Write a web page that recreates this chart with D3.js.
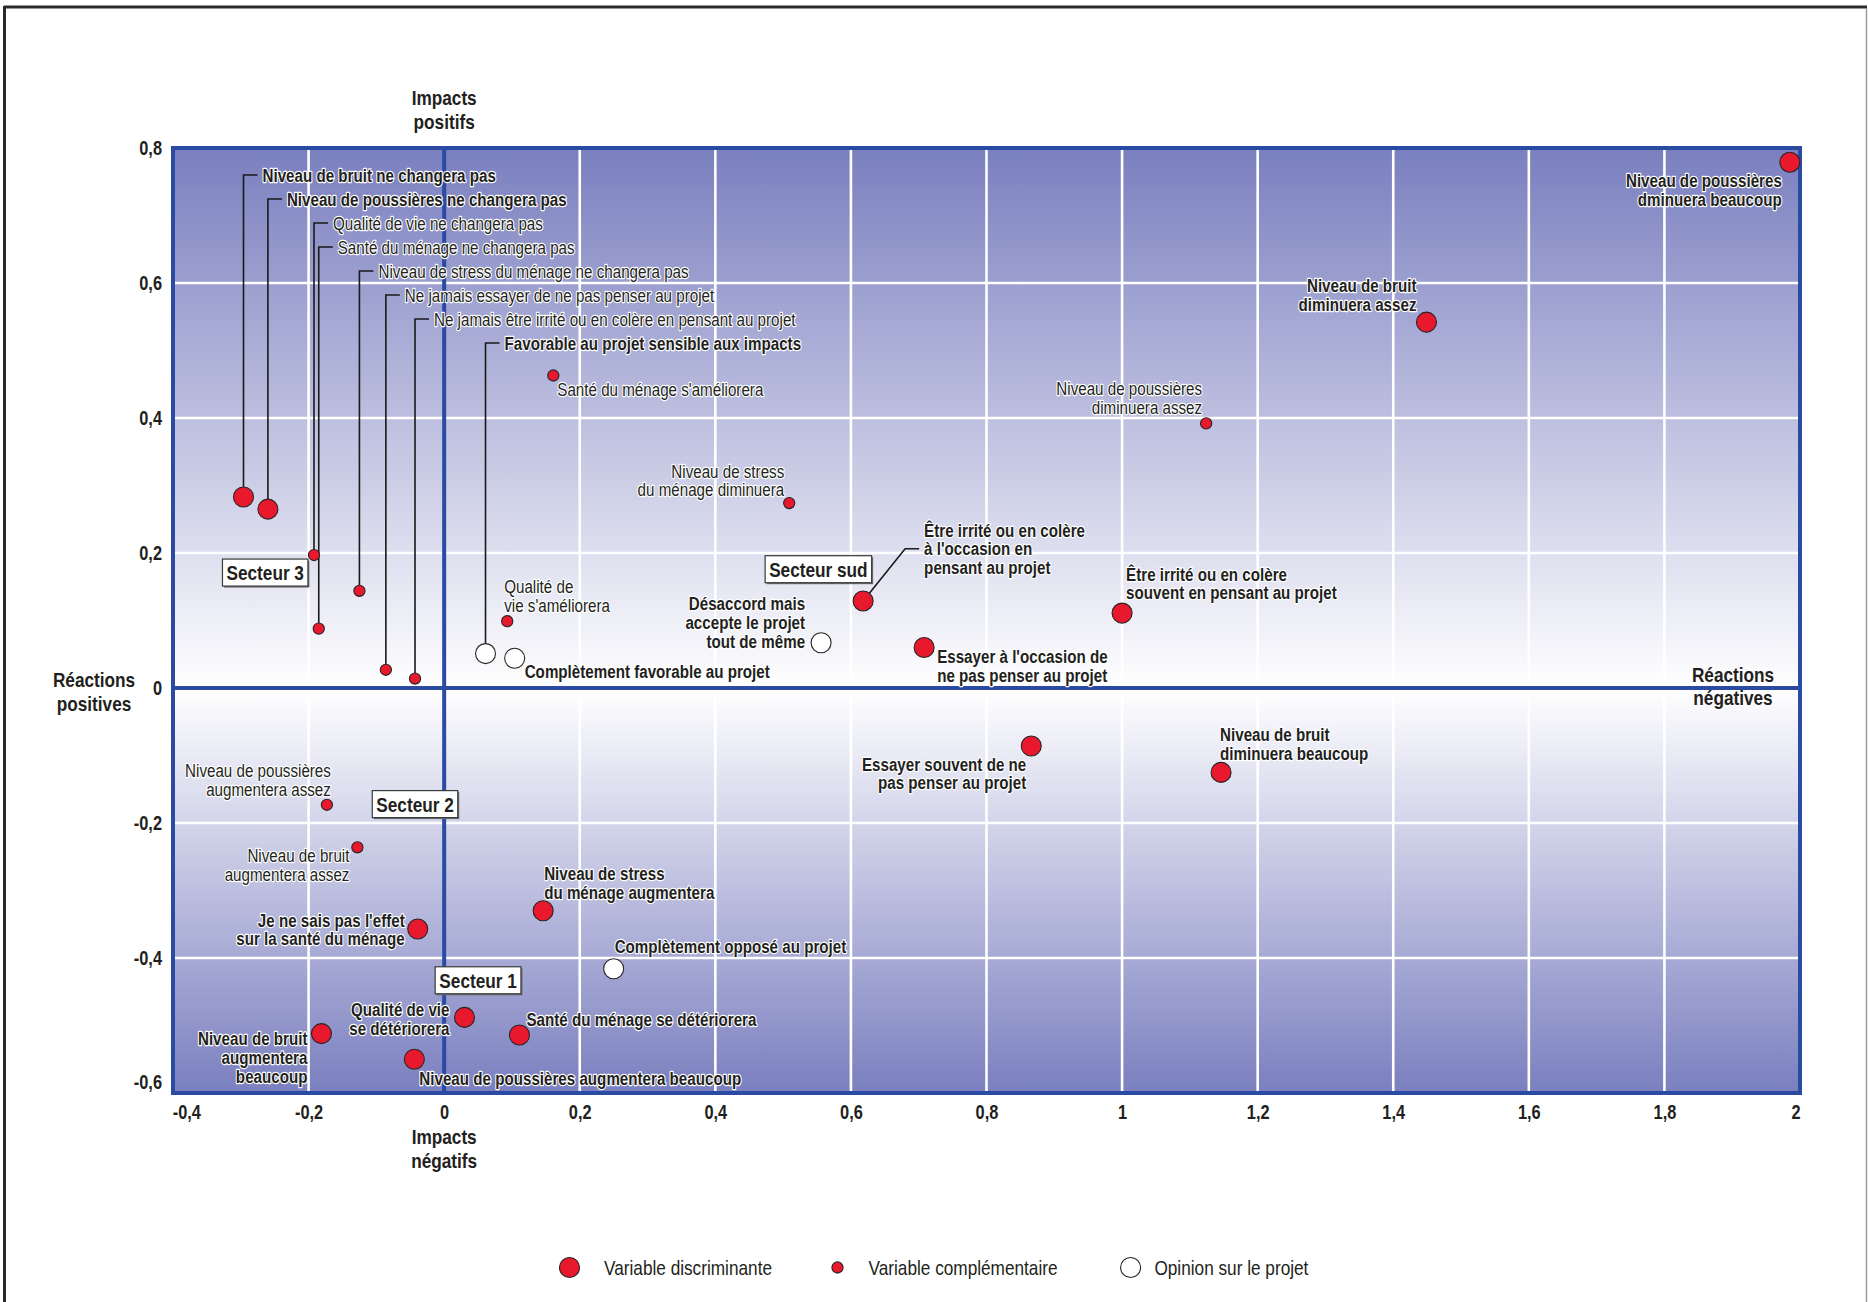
<!DOCTYPE html>
<html><head><meta charset="utf-8">
<script src="https://cdn.jsdelivr.net/npm/d3@7"></script>
<style>
html,body{margin:0;padding:0;background:#fff;}
svg{display:block;}
.lbl{font-size:18.5px;fill:#231f20;paint-order:stroke;stroke:#ffffff;stroke-width:2.4px;stroke-linejoin:round;}
.b{font-weight:bold;}
.tick text{font-size:20px;font-weight:bold;fill:#231f20;}
.ttl{font-size:21px;font-weight:bold;fill:#231f20;}
.leg{font-size:21px;fill:#231f20;}
.sect{font-size:21px;font-weight:bold;fill:#231f20;paint-order:stroke;stroke:#fff;stroke-width:1.5px;}
</style></head><body>
<svg id="chart" width="1868" height="1302"></svg>
<script>
// ---------- DATA ----------
const discriminantNames = [
  "Niveau de bruit ne changera pas",
  "Niveau de poussières ne changera pas",
  "Niveau de poussières\ndminuera beaucoup",
  "Niveau de bruit\ndiminuera assez",
  "Être irrité ou en colère\nà l'occasion en\npensant au projet",
  "Être irrité ou en colère\nsouvent en pensant au projet",
  "Essayer à l'occasion de\nne pas penser au projet",
  "Essayer souvent de ne\npas penser au projet",
  "Niveau de bruit\ndiminuera beaucoup",
  "Je ne sais pas l'effet\nsur la santé du ménage",
  "Niveau de stress\ndu ménage augmentera",
  "Qualité de vie\nse détériorera",
  "Santé du ménage se détériorera",
  "Niveau de bruit\naugmentera\nbeaucoup",
  "Niveau de poussières augmentera beaucoup"
];
const discriminantX = [-0.296,-0.260,1.985,1.449,0.618,1.000,0.708,0.866,1.146,-0.039,0.146,0.030,0.111,-0.181,-0.044];
const discriminantY = [0.283,0.265,0.779,0.542,0.129,0.111,0.060,-0.086,-0.125,-0.357,-0.330,-0.488,-0.514,-0.512,-0.550];

const complementaryNames = [
  "Qualité de vie ne changera pas",
  "Santé du ménage ne changera pas",
  "Niveau de stress du ménage ne changera pas",
  "Ne jamais essayer de ne pas penser au projet",
  "Ne jamais être irrité ou en colère en pensant au projet",
  "Santé du ménage s'améliorera",
  "Niveau de stress\ndu ménage diminuera",
  "Niveau de poussières\ndiminuera assez",
  "Qualité de\nvie s'améliorera",
  "Niveau de poussières\naugmentera assez",
  "Niveau de bruit\naugmentera assez"
];
const complementaryX = [-0.192,-0.185,-0.125,-0.086,-0.043,0.161,0.509,1.124,0.093,-0.173,-0.128];
const complementaryY = [0.197,0.088,0.144,0.027,0.014,0.463,0.274,0.392,0.099,-0.173,-0.236];

const opinionNames = [
  "Favorable au projet sensible aux impacts",
  "Complètement favorable au projet",
  "Désaccord mais\naccepte le projet\ntout de même",
  "Complètement opposé au projet"
];
const opinionX = [0.061,0.104,0.556,0.250];
const opinionY = [0.051,0.044,0.067,-0.416];

const sectorNames = ["Secteur 3","Secteur 2","Secteur 1","Secteur sud"];
const sectorX = [-0.264,-0.043,0.050,0.552];
const sectorY = [0.171,-0.172,-0.433,0.176];

const xTicks = [-0.4,-0.2,0,0.2,0.4,0.6,0.8,1,1.2,1.4,1.6,1.8,2];
const xTickLabels = ["-0,4","-0,2","0","0,2","0,4","0,6","0,8","1","1,2","1,4","1,6","1,8","2"];
const yTicks = [0.8,0.6,0.4,0.2,0,-0.2,-0.4,-0.6];
const yTickLabels = ["0,8","0,6","0,4","0,2","0","-0,2","-0,4","-0,6"];

const legendLabels = ["Variable discriminante","Variable complémentaire","Opinion sur le projet"];

// ---------- LAYOUT (label placement, pixels relative to point) ----------
const discriminantLayout = [
  {leader:0},{leader:1},
  {a:"end",dx:-8,dy:18},{a:"end",dx:-10,dy:-37},
  {a:"start",dx:61,dy:-71,elbow:true},{a:"start",dx:4,dy:-39},
  {a:"start",dx:13,dy:9},{a:"end",dx:-5,dy:18},
  {a:"start",dx:-1,dy:-38},{a:"end",dx:-13,dy:-9},
  {a:"start",dx:1,dy:-37},{a:"end",dx:-15,dy:-8},
  {a:"start",dx:7,dy:-16},{a:"end",dx:-14,dy:5},
  {a:"start",dx:5,dy:19}
];
const complementaryLayout = [
  {leader:2},{leader:3},{leader:4},{leader:5},{leader:6},
  {a:"start",dx:4,dy:14},{a:"end",dx:-5,dy:-32},
  {a:"end",dx:-4,dy:-35},{a:"start",dx:-3,dy:-35},
  {a:"end",dx:4,dy:-34},{a:"end",dx:-8,dy:8}
];
const opinionLayout = [
  {leader:7},{a:"start",dx:10,dy:13},{a:"end",dx:-16,dy:-39},{a:"start",dx:1,dy:-22}
];

const W = 1868, H = 1302;
const M = {left:173, right:1800, top:148, bottom:1093};
const LH = 18.8;
const BASE = 6.6;

const svg = d3.select("#chart");

// ---- narrow font detection: use Liberation Sans Narrow if present, else compress Liberation Sans ----
function measure(family){
  const t = svg.append("text").attr("x",-1000).attr("y",-1000).style("font-family",family).style("font-size","40px").text("Niveau de poussières");
  const w = t.node().getComputedTextLength(); t.remove(); return w;
}
const hasNarrow = Math.abs(measure('"Liberation Sans Narrow", monospace') - measure('monospace')) > 1;
const FAM = hasNarrow ? '"Liberation Sans Narrow"' : '"Liberation Sans", Arial, sans-serif';
const K = hasNarrow ? 1 : 0.82;

// narrow multi-line text helper
function ntext(parent, lines, px, py, lh, anchor, cls){
  const g = parent.append("g").attr("transform",`translate(${px},${py}) scale(${K},1)`);
  const t = g.append("text").attr("class",cls).style("font-family",FAM).attr("text-anchor",anchor||"start");
  lines.forEach((s,i)=> t.append("tspan").attr("x",0).attr("y",i*lh).text(s));
  return {g, t};
}

const x = d3.scaleLinear().domain([-0.4,2]).range([M.left,M.right]);
const y = d3.scaleLinear().domain([-0.6,0.8]).range([M.bottom,M.top]);

// page frame
svg.append("line").attr("x1",4).attr("x2",1867).attr("y1",7).attr("y2",7).attr("stroke","#2a2a2a").attr("stroke-width",3);
svg.append("line").attr("x1",4.5).attr("x2",4.5).attr("y1",6).attr("y2",H).attr("stroke","#2a2a2a").attr("stroke-width",3);
svg.append("line").attr("x1",1866.5).attr("x2",1866.5).attr("y1",8).attr("y2",H).attr("stroke","#9a9a9a").attr("stroke-width",1.5);

// gradients
const defs = svg.append("defs");
const gTop = defs.append("linearGradient").attr("id","gTop").attr("x1",0).attr("x2",0).attr("y1",0).attr("y2",1);
gTop.append("stop").attr("offset","0%").attr("stop-color","#7a7fbf");
gTop.append("stop").attr("offset","100%").attr("stop-color","#ffffff");
const gBot = defs.append("linearGradient").attr("id","gBot").attr("x1",0).attr("x2",0).attr("y1",0).attr("y2",1);
gBot.append("stop").attr("offset","0%").attr("stop-color","#ffffff");
gBot.append("stop").attr("offset","100%").attr("stop-color","#7a7fbf");

svg.append("rect").attr("x",x(-0.4)).attr("y",y(0.8)).attr("width",x(2)-x(-0.4)).attr("height",y(0)-y(0.8)).attr("fill","url(#gTop)");
svg.append("rect").attr("x",x(-0.4)).attr("y",y(0)).attr("width",x(2)-x(-0.4)).attr("height",y(-0.6)-y(0)).attr("fill","url(#gBot)");

// grid
const gridX = xTicks.filter(v => v>-0.4 && v<2 && v!==0);
const gridY = yTicks.filter(v => v>-0.6 && v<0.8 && v!==0);
svg.append("g").selectAll("line").data(gridX).join("line")
  .attr("x1",d=>x(d)).attr("x2",d=>x(d)).attr("y1",y(0.8)).attr("y2",y(-0.6))
  .attr("stroke","#ffffff").attr("stroke-width",2.6);
svg.append("g").selectAll("line").data(gridY).join("line")
  .attr("x1",x(-0.4)).attr("x2",x(2)).attr("y1",d=>y(d)).attr("y2",d=>y(d))
  .attr("stroke","#ffffff").attr("stroke-width",2.6);

const BLUE = "#2b4ba3";
svg.append("line").attr("x1",x(0)).attr("x2",x(0)).attr("y1",y(0.8)).attr("y2",y(-0.6)).attr("stroke",BLUE).attr("stroke-width",4);
svg.append("line").attr("x1",x(-0.4)).attr("x2",x(2)).attr("y1",y(0)).attr("y2",y(0)).attr("stroke",BLUE).attr("stroke-width",4);
svg.append("rect").attr("x",x(-0.4)).attr("y",y(0.8)).attr("width",x(2)-x(-0.4)).attr("height",y(-0.6)-y(0.8))
  .attr("fill","none").attr("stroke",BLUE).attr("stroke-width",4);

// axes
const yAxis = svg.append("g").attr("transform",`translate(${M.left},0)`)
  .call(d3.axisLeft(y).tickValues(yTicks).tickFormat((d,i)=>yTickLabels[i]).tickSize(0).tickPadding(11));
yAxis.select(".domain").remove();
yAxis.selectAll(".tick text").style("font-family",FAM).attr("x",-11/K).attr("transform",`scale(${K},1)`);
yAxis.selectAll(".tick text").filter(d=>d===-0.6).attr("dy","-0.25em");

const xAxis = svg.append("g").attr("transform",`translate(0,${M.bottom})`)
  .call(d3.axisBottom(x).tickValues(xTicks).tickFormat((d,i)=>xTickLabels[i]).tickSize(0).tickPadding(12));
xAxis.select(".domain").remove();
xAxis.selectAll(".tick text").style("font-family",FAM).attr("transform",`scale(${K},1)`);
xAxis.selectAll(".tick text").filter(d=>d===-0.4).attr("text-anchor","start").attr("dx",-1);
xAxis.selectAll(".tick text").filter(d=>d===2).attr("text-anchor","end");

// axis titles
const titles = [
  {lines:["Impacts","positifs"], x:x(0), y:97.7+7.5},
  {lines:["Impacts","négatifs"], x:x(0), y:1136.7+7.5},
  {lines:["Réactions","positives"], x:94, y:679.3+7.5},
  {lines:["Réactions","négatives"], x:1733, y:674+7.5}
];
titles.forEach(t=> ntext(svg, t.lines, t.x, t.y, 24, "middle", "ttl"));

// series
const series = [
  {names:discriminantNames, xs:discriminantX, ys:discriminantY, layout:discriminantLayout, r:10, fill:"#e8182d", bold:true},
  {names:complementaryNames, xs:complementaryX, ys:complementaryY, layout:complementaryLayout, r:5.6, fill:"#e8182d", bold:false},
  {names:opinionNames, xs:opinionX, ys:opinionY, layout:opinionLayout, r:10, fill:"#ffffff", bold:true}
];

const leaderG = svg.append("g");
const pointG = svg.append("g");
const labelG = svg.append("g");

series.forEach(s=>{
  const data = s.names.map((n,i)=>({name:n, vx:s.xs[i], vy:s.ys[i], lay:s.layout[i]}));
  pointG.selectAll(null).data(data).join("circle")
    .attr("cx",d=>x(d.vx)).attr("cy",d=>y(d.vy)).attr("r",s.r)
    .attr("fill",s.fill).attr("stroke","#2a2325").attr("stroke-width",1.1);

  data.forEach(d=>{
    const px = x(d.vx), py = y(d.vy), L = d.lay;
    const lines = d.name.split("\n");
    const cls = "lbl"+(s.bold?" b":"");
    if (L.leader !== undefined){
      const rowY = M.top + 27 + 24*L.leader;
      leaderG.append("path")
        .attr("d",`M${px},${py - s.r}V${rowY}H${px+14}`)
        .attr("fill","none").attr("stroke","#1a1a1a").attr("stroke-width",1.6);
      ntext(labelG, lines, px+19, rowY+BASE, LH, "start", cls);
    } else {
      ntext(labelG, lines, px+L.dx, py+L.dy+BASE, LH, L.a, cls);
      if (L.elbow){
        const ex = px+42, ey = py+L.dy+LH;
        const ang = Math.atan2(ey-py, ex-px);
        leaderG.append("path")
          .attr("d",`M${px+Math.cos(ang)*s.r},${py+Math.sin(ang)*s.r}L${ex},${ey}H${px+L.dx-5}`)
          .attr("fill","none").attr("stroke","#1a1a1a").attr("stroke-width",1.6);
      }
    }
  });
});

// sector boxes
sectorNames.forEach((n,i)=>{
  const g = svg.append("g");
  const cx = x(sectorX[i]), cy = y(sectorY[i]);
  const shadow = g.append("rect").attr("fill","#6d6d6d");
  const box = g.append("rect").attr("fill","#ffffff").attr("stroke","#3a3a3a").attr("stroke-width",1.2);
  const {t} = ntext(g, [n], cx, cy+7.5, 0, "middle", "sect");
  const w = t.node().getBBox().width*K + 8, h = 27;
  const bx = cx-w/2, by = cy-h/2;
  shadow.attr("x",bx+1.5).attr("y",by+1.5).attr("width",w).attr("height",h);
  box.attr("x",bx).attr("y",by).attr("width",w).attr("height",h);
});

// legend
const legY = 1267.5;
const legItems = [
  {cx:569.5, r:10, fill:"#e8182d", tx:604},
  {cx:837.5, r:5.6, fill:"#e8182d", tx:868.5},
  {cx:1130.6, r:10, fill:"#ffffff", tx:1154.4}
];
legItems.forEach((it,i)=>{
  svg.append("circle").attr("cx",it.cx).attr("cy",legY).attr("r",it.r).attr("fill",it.fill).attr("stroke","#2a2325").attr("stroke-width",1.1);
  ntext(svg, [legendLabels[i]], it.tx, legY+7.5, 0, "start", "leg");
});
</script>
</body></html>
